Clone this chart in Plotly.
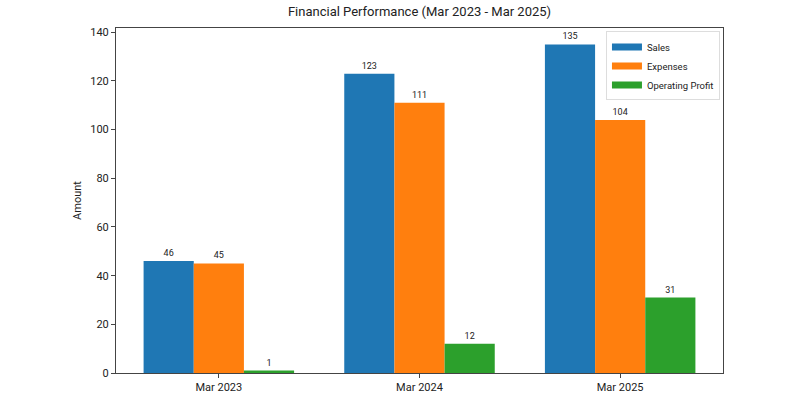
import plotly.graph_objects as go

periods = ["Mar 2023", "Mar 2024", "Mar 2025"]
sales = [46, 123, 135]
expenses = [45, 111, 104]
op_profit = [1, 12, 31]
series_names = ["Sales", "Expenses", "Operating Profit"]
colors = ["#1f77b4", "#ff7f0e", "#2ca02c"]
y_ticks = [0, 20, 40, 60, 80, 100, 120, 140]

FONT = "Roboto"
fig = go.Figure()
for name, vals, col in zip(series_names, [sales, expenses, op_profit], colors):
    fig.add_trace(go.Bar(
        x=list(range(len(periods))), y=vals, name=name,
        marker=dict(color=col, line=dict(width=0)),
        text=[str(v) for v in vals], textposition="outside",
        textfont=dict(size=9, color="#222", family=FONT),
        cliponaxis=False, showlegend=False,
    ))
# legend entries drawn as short thick line swatches
for name, col in zip(series_names, colors):
    fig.add_trace(go.Scatter(
        x=[None], y=[None], mode="lines", name=name,
        line=dict(color=col, width=7), showlegend=True,
    ))

fig.update_layout(
    width=800, height=400,
    margin=dict(l=116, r=77, t=28, b=27),
    paper_bgcolor="white", plot_bgcolor="white",
    barmode="group", bargap=0.25, bargroupgap=0,
    font=dict(family=FONT, size=11, color="#222"),
    title=dict(text="Financial Performance (Mar 2023 - Mar 2025)",
               x=0.5, xref="paper", xanchor="center",
               y=1, yref="container", yanchor="top", pad=dict(t=7),
               font=dict(size=13, family=FONT, color="#222")),
    legend=dict(x=0.995, y=0.99, xanchor="right", yanchor="top",
                bgcolor="rgba(255,255,255,0.8)", bordercolor="#dddddd", borderwidth=1,
                font=dict(size=9.5, family=FONT), itemwidth=30,
                tracegroupgap=0),
    showlegend=True,
)
fig.update_xaxes(
    range=[-0.5125, 2.5125], tickmode="array",
    tickvals=list(range(len(periods))), ticktext=periods,
    showgrid=False, zeroline=False, showline=True, mirror=True,
    linecolor="#444", linewidth=1, ticks="outside", ticklen=4, tickcolor="#444",
    tickfont=dict(size=11), automargin=False,
)
fig.update_yaxes(
    range=[0, 141.75], tickmode="array", tickvals=y_ticks,
    showgrid=False, zeroline=False, showline=True, mirror=True,
    linecolor="#444", linewidth=1, ticks="outside", ticklen=4, tickcolor="#444",
    tickfont=dict(size=11), automargin=False,
    title=dict(text="Amount", font=dict(size=11), standoff=6),
)
fig.write_html("out.html")
